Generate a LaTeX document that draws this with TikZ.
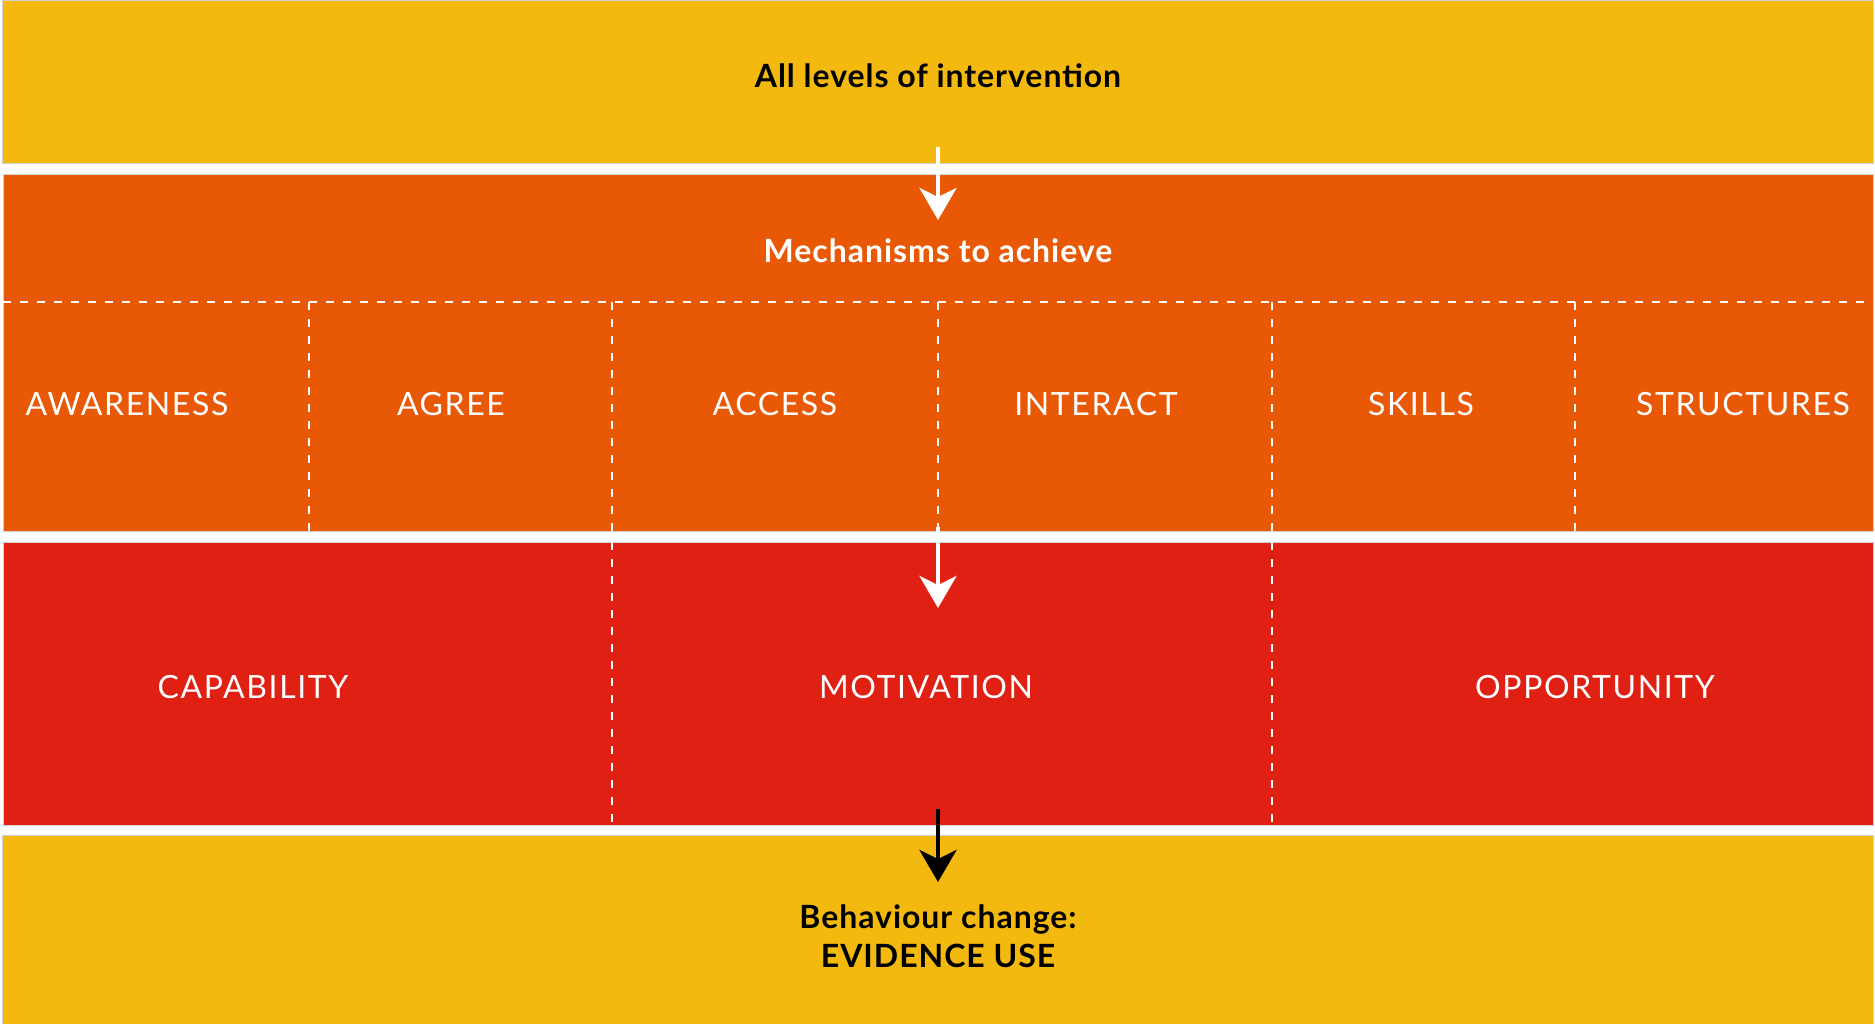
\documentclass[tikz,border=0pt]{standalone}
\usepackage{fontspec}
\setmainfont{Lato}
\newfontfamily\labelfont[LetterSpace=5]{Lato}
\newfontfamily\headfont[LetterSpace=3]{Lato}
\usepackage{tikz}
\usetikzlibrary{arrows.meta}
\definecolor{bandyellow}{RGB}{243,185,14}
\definecolor{bandorange}{RGB}{232,88,5}
\definecolor{bandred}{RGB}{224,32,18}
\tikzstyle{band}    = [rectangle, anchor=north west, inner sep=0pt, draw=black!18, line width=0.8pt]
\tikzstyle{heading} = [font=\headfont\fontsize{32}{39}\selectfont\bfseries, anchor=base, align=center]
\tikzstyle{mech}    = [font=\labelfont\fontsize{32}{39}\selectfont, text=white, anchor=base]
\tikzstyle{divider} = [white, line width=2pt, dash pattern=on 8pt off 9pt]
\tikzstyle{arrow}   = [line width=4pt, -{Stealth[length=32pt, width=37pt, inset=9pt]}]

\begin{document}
\begin{tikzpicture}[x=1pt, y=-1pt]

    \useasboundingbox (0,0) rectangle (1875,1024);

    % bands
    \node (levels) [band, fill=bandyellow, minimum width=1871pt, minimum height=163pt] at (2,0)   {};
    \node (mechs)  [band, fill=bandorange, minimum width=1870pt, minimum height=357pt] at (3,174) {};
    \node (com)    [band, fill=bandred,    minimum width=1870pt, minimum height=283pt] at (3,542) {};
    \node (change) [band, fill=bandyellow, minimum width=1871pt, minimum height=189pt] at (2,835) {};

    % dashed cells
    \draw [divider] (3,302) -- (1873,302);
    \foreach \x in {309,612,938,1272,1575}
        \draw [divider] (\x,302) -- (\x,531);
    \foreach \x in {612,1272}
        \draw [divider] (\x,542) -- (\x,825);

    % texts
    \node (alllevels) [heading]             at (938,88)  {All levels of intervention};
    \node (mechtitle) [heading, text=white] at (938,263) {Mechanisms to achieve};
    \node (awareness) [mech] at (127,415)  {AWARENESS};
    \node (agree)     [mech] at (451,415)  {AGREE};
    \node (access)    [mech] at (775,415)  {ACCESS};
    \node (interact)  [mech] at (1096,415) {INTERACT};
    \node (skills)    [mech] at (1421,415) {SKILLS};
    \node (structs)   [mech] at (1743,415) {STRUCTURES};
    \node (capab)     [mech] at (253,698)  {CAPABILITY};
    \node (motiv)     [mech] at (926,698)  {MOTIVATION};
    \node (oppor)     [mech] at (1595,698) {OPPORTUNITY};
    \node (behav)     [heading] at (938,928) {Behaviour change:};
    \node (evidence)  [heading] at (938,967) {EVIDENCE USE};

    % arrows
    \coordinate (a1from) at (938,147);
    \coordinate (a1to)   at (938,220);
    \coordinate (a2from) at (938,527);
    \coordinate (a2to)   at (938,608);
    \coordinate (a3from) at (938,809);
    \coordinate (a3to)   at (938,882);
    \draw [arrow, white] (a1from) -- (a1to);
    \draw [arrow, white] (a2from) -- (a2to);
    \draw [arrow, black] (a3from) -- (a3to);

\end{tikzpicture}
\end{document}
